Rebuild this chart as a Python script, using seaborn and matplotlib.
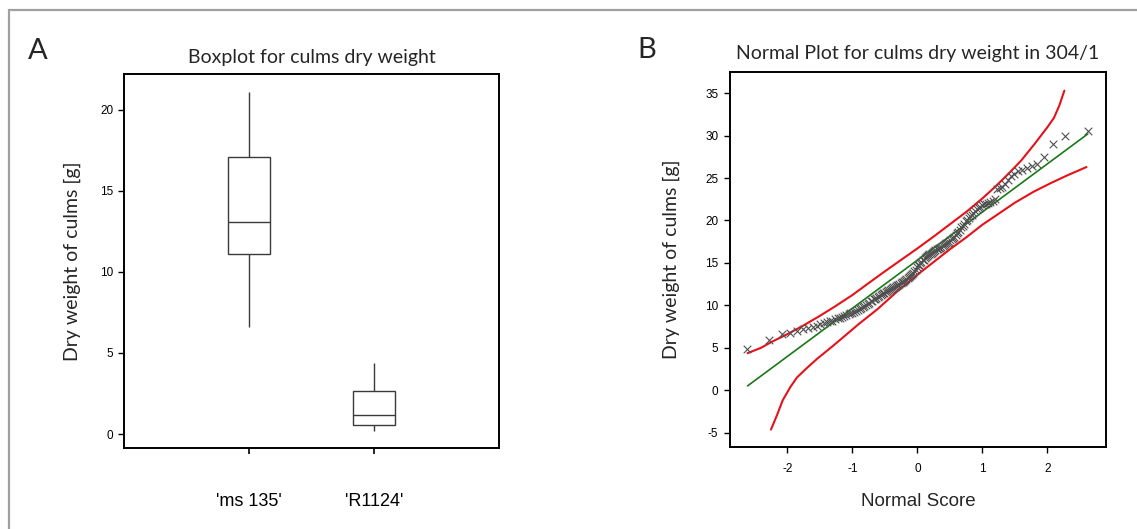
import matplotlib
matplotlib.use("Agg")
import matplotlib.pyplot as plt
from matplotlib.patches import Rectangle
from statistics import NormalDist
import numpy as np
import pandas as pd
import seaborn as sns

# ---- Panel A: box summaries (min, Q1, median, Q3, max) of culm dry weight [g]
cultivars = ["'ms 135'", "'R1124'"]
ms135_weights = [6.6, 11.1, 13.1, 17.1, 21.1]
r1124_weights = [0.2, 0.55, 1.2, 2.67, 4.4]

# ---- Panel B: sorted culm dry weights of line 304/1 [g]
weights_304 = [
    4.9, 5.9, 6.6, 6.75, 7.0, 7.15, 7.3, 7.45, 7.6, 7.75,
    7.9, 8.0, 8.1, 8.2, 8.35, 8.45, 8.55, 8.65, 8.75, 8.85,
    8.95, 9.05, 9.15, 9.25, 9.35, 9.45, 9.55, 9.7, 9.8, 9.95,
    10.05, 10.2, 10.3, 10.45, 10.55, 10.7, 10.8, 10.9, 11.0, 11.1,
    11.2, 11.3, 11.4, 11.5, 11.6, 11.7, 11.75, 11.85, 11.95, 12.0,
    12.1, 12.2, 12.3, 12.35, 12.45, 12.5, 12.6, 12.7, 12.8, 12.9,
    13.0, 13.1, 13.2, 13.3, 13.4, 13.55, 13.7, 13.85, 14.0, 14.2,
    14.5, 14.7, 14.8, 15.0, 15.1, 15.3, 15.4, 15.6, 15.7, 15.8,
    15.9, 16.0, 16.1, 16.2, 16.3, 16.4, 16.5, 16.6, 16.6, 16.7,
    16.8, 16.9, 17.0, 17.1, 17.2, 17.3, 17.4, 17.5, 17.7, 17.8,
    17.9, 18.1, 18.3, 18.5, 18.7, 18.9, 19.2, 19.4, 19.6, 19.9,
    20.1, 20.3, 20.5, 20.7, 20.9, 21.1, 21.3, 21.5, 21.6, 21.8,
    21.9, 22.0, 22.1, 22.2, 22.3, 22.5, 23.7, 23.8, 24.0, 24.3,
    24.8, 25.2, 25.5, 25.8, 26.0, 26.2, 26.4, 26.6, 27.5, 29.0,
    29.9, 30.5,
]

# fitted normal line (end points)
fit_score = [-2.61, 2.62]
fit_weight = [0.5, 30.2]

# confidence bands
upper_score = [-2.61, -2.40, -2.25, -2.00, -1.79, -1.50, -1.28, -1.00, -0.77, -0.50,
               -0.26, 0.00, 0.25, 0.50, 0.75, 1.00, 1.20, 1.40, 1.60, 1.80,
               2.00, 2.10, 2.18, 2.26]
upper_weight = [4.36, 5.0, 5.65, 6.6, 7.45, 8.75, 9.8, 11.2, 12.5, 14.0,
                15.3, 16.7, 18.1, 19.55, 21.0, 22.6, 24.0, 25.5, 27.1, 29.0,
                31.0, 32.1, 33.5, 35.3]
lower_score = [-2.25, -2.15, -2.07, -1.95, -1.85, -1.70, -1.54, -1.30, -1.13, -0.90,
               -0.62, -0.30, -0.05, 0.25, 0.50, 0.75, 1.00, 1.27, 1.50, 1.79,
               2.05, 2.30, 2.60]
lower_weight = [-4.65, -2.8, -1.2, 0.4, 1.5, 2.6, 3.7, 5.2, 6.3, 7.8,
                9.5, 11.7, 13.3, 15.1, 16.6, 18.0, 19.5, 20.9, 22.1, 23.4,
                24.4, 25.3, 26.3]

sns.set_theme(style="white")
plt.rcParams["font.family"] = ["Liberation Sans", "DejaVu Sans"]
plt.rcParams["axes.unicode_minus"] = False
title_font = ["Lato", "DejaVu Sans"]

W, H = 1137, 529
fig = plt.figure(figsize=(W / 100, H / 100), dpi=100)
fig.patch.set_facecolor("white")

# thin grey frame around the figure (top and left edges visible)
fig.patches.append(Rectangle((9 / W, -0.5), 2.0, 1.5 - 10 / H, transform=fig.transFigure,
                             fill=False, edgecolor="#a0a0a0", linewidth=1.6))

axA = fig.add_axes([124 / W, 1 - 448 / H, 375 / W, 374 / H])
axB = fig.add_axes([730 / W, 1 - 447 / H, 376 / W, 375 / H])

for ax in (axA, axB):
    for sp in ax.spines.values():
        sp.set_visible(True)
        sp.set_color("black")
        sp.set_linewidth(1.4)
    ax.set_facecolor("white")

# ---------------- Panel A: boxplot
box_df = pd.DataFrame({
    "cultivar": [cultivars[0]] * len(ms135_weights) + [cultivars[1]] * len(r1124_weights),
    "weight": ms135_weights + r1124_weights,
})
sns.boxplot(data=box_df, x="cultivar", y="weight", ax=axA, order=cultivars,
            color="white", linecolor="#3a3a3a", linewidth=1.0, width=0.33,
            whis=(0, 100), showcaps=False, fliersize=0)
axA.set_xlim(-1, 2)
axA.set_ylim(-0.86, 22.2)
axA.set_yticks([0, 5, 10, 15, 20])
axA.tick_params(axis="y", which="both", left=True, length=4.5, width=1.0,
                labelsize=8.5, pad=3, colors="black")
axA.tick_params(axis="x", which="both", bottom=True, length=4.5, width=1.2,
                labelsize=13, pad=28, colors="black")
axA.set_xlabel("")
axA.set_ylabel("Dry weight of culms [g]", fontsize=14, family=title_font, labelpad=14)
axA.set_title("Boxplot for culms dry weight", fontsize=14, family=title_font, pad=8)

# ---------------- Panel B: normal probability plot
n = len(weights_304)
nd = NormalDist()
normal_scores = [nd.inv_cdf((i - 0.375) / (n + 0.25)) for i in range(1, n + 1)]
pts = pd.DataFrame({"score": normal_scores, "weight": sorted(weights_304)})

sns.lineplot(x=upper_score, y=upper_weight, ax=axB, color="#e5121a", linewidth=1.5,
             sort=False, estimator=None)
sns.lineplot(x=lower_score, y=lower_weight, ax=axB, color="#e5121a", linewidth=1.5,
             sort=False, estimator=None)
sns.lineplot(x=fit_score, y=fit_weight, ax=axB, color="#177a17", linewidth=1.2,
             sort=False, estimator=None)
sns.scatterplot(data=pts, x="score", y="weight", ax=axB, marker="x", s=30,
                color="#505050", linewidth=0.8, zorder=3)

axB.set_xlim(-2.88, 2.9)
axB.set_ylim(-6.7, 37.5)
axB.set_xticks([-2, -1, 0, 1, 2])
axB.set_yticks(range(-5, 36, 5))
axB.tick_params(axis="both", which="both", left=True, bottom=True, length=4.5,
                width=1.0, labelsize=8.5, pad=4, colors="black")
axB.tick_params(axis="x", pad=7)
axB.set_xlabel("Normal Score", fontsize=13.5, labelpad=13)
axB.set_ylabel("Dry weight of culms [g]", fontsize=14, family=title_font, labelpad=18)
axB.set_title("Normal Plot for culms dry weight in 304/1", fontsize=14,
              family=title_font, pad=9)

# panel letters
fig.text(28 / W, 1 - 51 / H, "A", fontsize=21, family=title_font, va="center", ha="left")
fig.text(637 / W, 1 - 50 / H, "B", fontsize=21, family=title_font, va="center", ha="left")

fig.savefig("out.png", dpi=100, facecolor="white")
